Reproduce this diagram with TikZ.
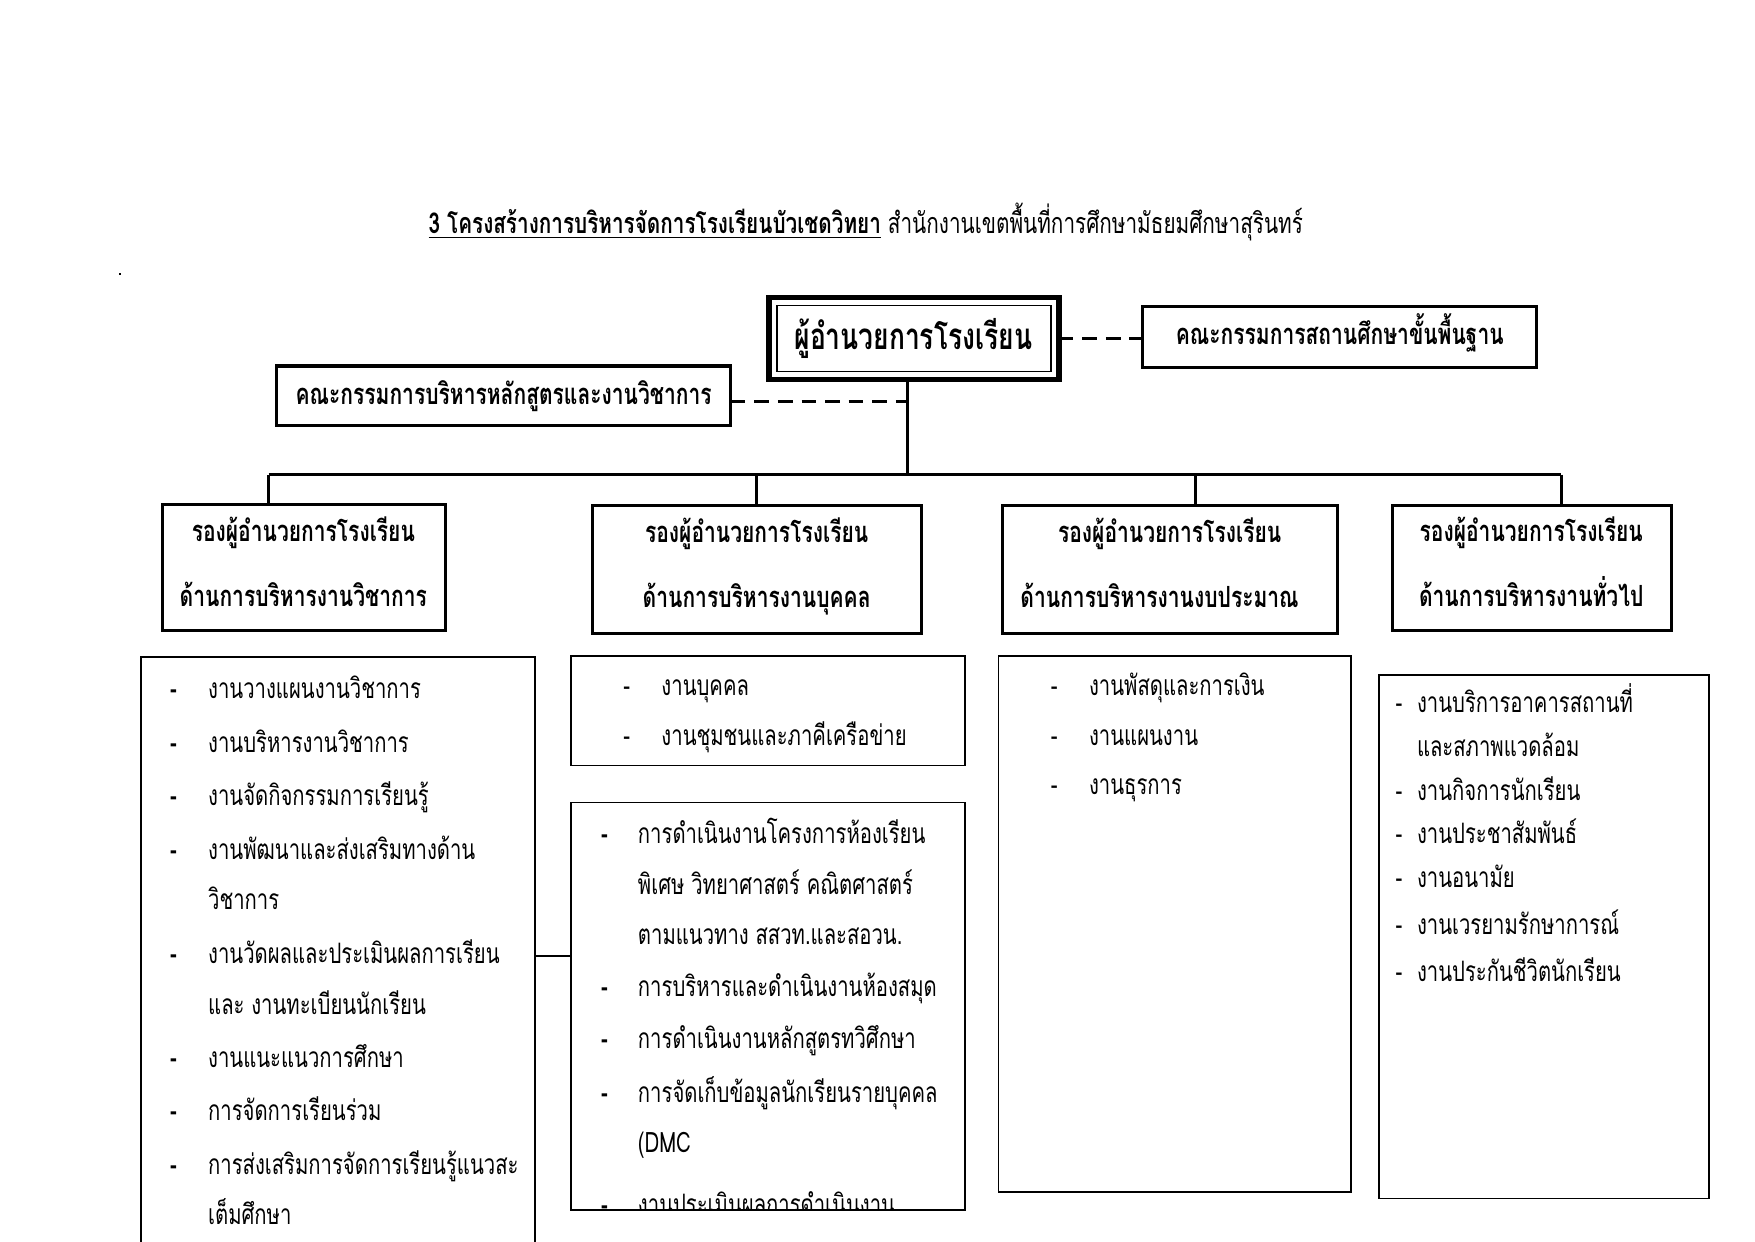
\documentclass[tikz,border=0pt]{standalone}
\usepackage{fontspec}
\usetikzlibrary{fit}
\newfontfamily\thlist[Script=Thai,FakeStretch=0.72]{Loma}
\newfontfamily\thhead[Script=Thai,FakeStretch=0.72]{Loma}
\begin{document}
\begin{tikzpicture}[x=0.537pt,y=-0.537pt,
  every node/.style={inner sep=0pt,outer sep=0pt},
  hbox/.style={draw,line width=1.5pt},
  lbox/.style={draw,line width=0.7pt},
  conn/.style={line width=1.3pt},
  lconn/.style={line width=0.8pt},
  dconn/.style={line width=1.6pt,dash pattern=on 7pt off 4.3pt},
  hfont/.style={font=\thhead\bfseries\fontsize{14}{16}\selectfont,anchor=base},
  lfont/.style={font=\thlist\fontsize{13.5}{15}\selectfont},
  itm/.style={lfont,anchor=base west},
  dsh/.style={lfont,anchor=base},
  bdsh/.style={font=\thlist\bfseries\fontsize{13.5}{15}\selectfont,anchor=base}]
\useasboundingbox (0,0) rectangle (1568,1109);

% title
\node[anchor=base west,font=\thhead\fontsize{13.8}{15}\selectfont] (title) at (383,209)
  {\textbf{\underline{3 โครงสร้างการบริหารจัดการโรงเรียนบัวเชดวิทยา}} สำนักงานเขตพื้นที่การศึกษามัธยมศึกษาสุรินทร์};
\node[fill,minimum size=1.2pt] (dot) at (107,245) {};

% top level
\node[fit={(687,266)(946,339)},draw,line width=2.6pt] (dir) {};
\node[fit={(694,273)(939,332)},draw,line width=0.8pt] (dirin) {};
\node[font=\thhead\bfseries\fontsize{17.6}{20}\selectfont,anchor=base] (dirt) at (816,312) {ผู้อำนวยการโรงเรียน};
\node[fit={(1021,274)(1373,328)},hbox] (cr) {};
\node[hfont] (crt) at (1197,308) {คณะกรรมการสถานศึกษาขั้นพื้นฐาน};
\node[fit={(247,327)(653,380)},hbox] (cl) {};
\node[hfont] (clt) at (450,361) {คณะกรรมการบริหารหลักสูตรและงานวิชาการ};

% vice directors
\node[fit={(145,451)(398,563)},hbox] (vp1) {};
\node[fit={(529,452)(823,566)},hbox] (vp2) {};
\node[fit={(896,452)(1195,566)},hbox] (vp3) {};
\node[fit={(1244,452)(1493,563)},hbox] (vp4) {};
\node[hfont] (vp1a) at (271,484) {รองผู้อำนวยการโรงเรียน};
\node[hfont] (vp1b) at (271,542) {ด้านการบริหารงานวิชาการ};
\node[hfont] (vp2a) at (676,485) {รองผู้อำนวยการโรงเรียน};
\node[hfont] (vp2b) at (676,543) {ด้านการบริหารงานบุคคล};
\node[hfont] (vp3a) at (1045,485) {รองผู้อำนวยการโรงเรียน};
\node[hfont] (vp3b) at (1036,543) {ด้านการบริหารงานงบประมาณ};
\node[hfont] (vp4a) at (1368,484) {รองผู้อำนวยการโรงเรียน};
\node[hfont] (vp4b) at (1368,542) {ด้านการบริหารงานทั่วไป};

% connectors
\coordinate (bus) at (811,424);
\coordinate (d1) at (240,424);
\coordinate (d2) at (676,424);
\coordinate (d3) at (1068,424);
\coordinate (d4) at (1395,424);
\coordinate (dl) at (811,359);
\draw[conn] (dir.south -| bus) -- (bus);
\draw[conn] (d1) -- (d4);
\draw[conn] (d1) -- (d1 |- vp1.north);
\draw[conn] (d2) -- (d2 |- vp2.north);
\draw[conn] (d3) -- (d3 |- vp3.north);
\draw[conn] (d4) -- (d4 |- vp4.north);
\draw[dconn] (dir.east) -- (dir.east -| cr.west);
\draw[dconn] (cl.east |- dl) -- (dl);

% list boxes
\node[fit={(126,587)(478,1115)},lbox] (l1) {};
\node[fit={(510,586)(862,684)},lbox] (l2a) {};
\node[fit={(510,717)(862,1081)},lbox] (l2b) {};
\node[fit={(892,586)(1207,1065)},lbox] (l3) {};
\node[fit={(1232,603)(1527,1071)},lbox] (l4) {};
\coordinate (lc) at (478,854);
\draw[lconn] (l1.east |- lc) -- (l2b.west |- lc);

% box 1 items
\node[bdsh] (a1d) at (155,624) {-};   \node[itm] (a1) at (186,624) {งานวางแผนงานวิชาการ};
\node[bdsh] (a2d) at (155,672) {-};   \node[itm] (a2) at (186,672) {งานบริหารงานวิชาการ};
\node[bdsh] (a3d) at (155,720) {-};   \node[itm] (a3) at (186,720) {งานจัดกิจกรรมการเรียนรู้};
\node[bdsh] (a4d) at (155,768) {-};   \node[itm] (a4) at (186,768) {งานพัฒนาและส่งเสริมทางด้าน};
\node[itm] (a4b) at (186,813) {วิชาการ};
\node[bdsh] (a5d) at (155,861) {-};   \node[itm] (a5) at (186,861) {งานวัดผลและประเมินผลการเรียน};
\node[itm] (a5b) at (186,906) {และ งานทะเบียนนักเรียน};
\node[bdsh] (a6d) at (155,954) {-};   \node[itm] (a6) at (186,954) {งานแนะแนวการศึกษา};
\node[bdsh] (a7d) at (155,1001) {-};  \node[itm] (a7) at (186,1001) {การจัดการเรียนร่วม};
\node[bdsh] (a8d) at (155,1049) {-};  \node[itm] (a8) at (186,1049) {การส่งเสริมการจัดการเรียนรู้แนวสะ};
\node[itm] (a8b) at (186,1094) {เต็มศึกษา};

% box 2a items
\node[dsh] (b1d) at (560,621) {-};  \node[itm] (b1) at (591,621) {งานบุคคล};
\node[dsh] (b2d) at (560,666) {-};  \node[itm] (b2) at (591,666) {งานชุมชนและภาคีเครือข่าย};

% box 2b items
\begin{scope}
\clip (l2b.north west) rectangle (l2b.south east);
\node[bdsh] (c1d) at (540,754) {-};  \node[itm] (c1) at (570,754) {การดำเนินงานโครงการห้องเรียน};
\node[itm] (c1b) at (570,799) {พิเศษ วิทยาศาสตร์ คณิตศาสตร์};
\node[itm] (c1c) at (570,844) {ตามแนวทาง สสวท.และสอวน.};
\node[bdsh] (c2d) at (540,890) {-};  \node[itm] (c2) at (570,890) {การบริหารและดำเนินงานห้องสมุด};
\node[bdsh] (c3d) at (540,937) {-};  \node[itm] (c3) at (570,937) {การดำเนินงานหลักสูตรทวิศึกษา};
\node[bdsh] (c4d) at (540,985) {-};  \node[itm] (c4) at (570,985) {การจัดเก็บข้อมูลนักเรียนรายบุคคล};
\node[itm] (c4b) at (570,1030) {(DMC};
\node[bdsh] (c5d) at (540,1085) {-};  \node[itm] (c5) at (570,1085) {งานประเมินผลการดำเนินงาน};
\end{scope}
\draw[lbox] (l2b.north west) rectangle (l2b.south east);

% box 3 items
\node[dsh] (e1d) at (942,621) {-};  \node[itm] (e1) at (973,621) {งานพัสดุและการเงิน};
\node[dsh] (e2d) at (942,666) {-};  \node[itm] (e2) at (973,666) {งานแผนงาน};
\node[dsh] (e3d) at (942,710) {-};  \node[itm] (e3) at (973,710) {งานธุรการ};

% box 4 items
\node[dsh] (f1d) at (1250,637) {-};  \node[itm] (f1) at (1266,637) {งานบริการอาคารสถานที่};
\node[itm] (f1b) at (1266,676) {และสภาพแวดล้อม};
\node[dsh] (f2d) at (1250,715) {-};  \node[itm] (f2) at (1266,715) {งานกิจการนักเรียน};
\node[dsh] (f3d) at (1250,754) {-};  \node[itm] (f3) at (1266,754) {งานประชาสัมพันธ์};
\node[dsh] (f4d) at (1250,793) {-};  \node[itm] (f4) at (1266,793) {งานอนามัย};
\node[dsh] (f5d) at (1250,835) {-};  \node[itm] (f5) at (1266,835) {งานเวรยามรักษาการณ์};
\node[dsh] (f6d) at (1250,877) {-};  \node[itm] (f6) at (1266,877) {งานประกันชีวิตนักเรียน};
\end{tikzpicture}
\end{document}
